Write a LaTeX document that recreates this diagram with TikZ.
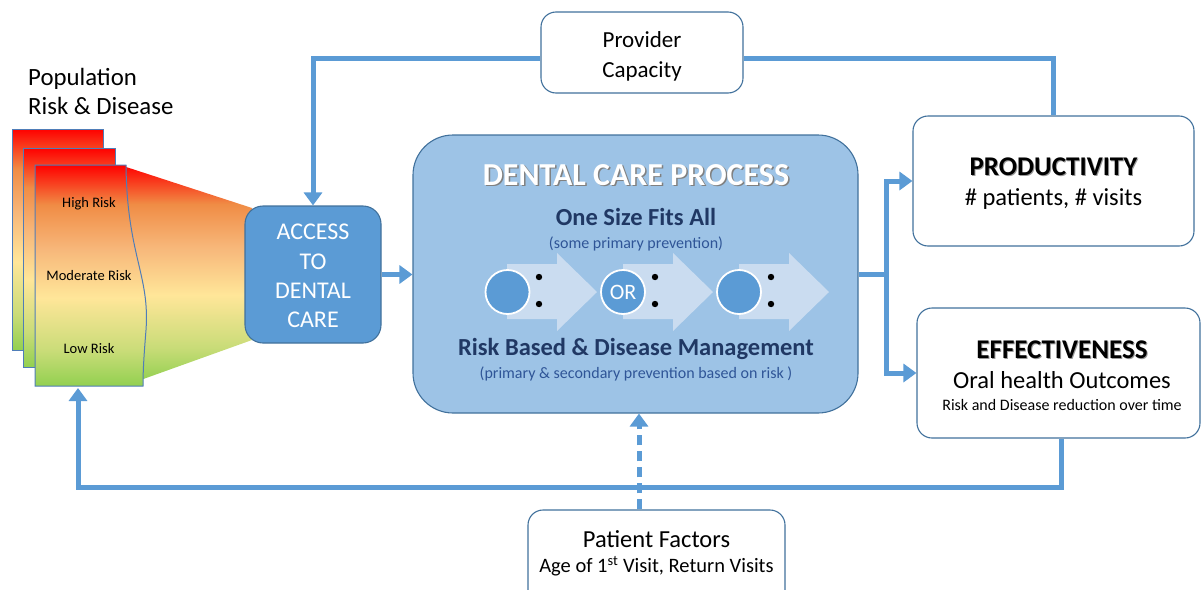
\documentclass[tikz,border=0pt]{standalone}
\usepackage{fontspec}
\setmainfont{Carlito}
\usetikzlibrary{arrows.meta,calc}
\definecolor{cblue}{HTML}{5B9BD5}
\definecolor{cborder}{HTML}{41719C}
\definecolor{cproc}{HTML}{9DC3E6}
\definecolor{cnavy}{HTML}{203864}
\definecolor{cmid}{HTML}{2F5597}
\definecolor{carrow}{HTML}{CADCF0}
\definecolor{rred}{HTML}{FF0000}
\definecolor{rorange}{HTML}{F08C45}
\definecolor{rlorange}{HTML}{F7B77A}
\definecolor{ryellow}{HTML}{FFE699}
\definecolor{rlgreen}{HTML}{C9DC78}
\definecolor{rgreen}{HTML}{92D050}
\definecolor{pageb}{HTML}{4F7DB8}
\pgfdeclareverticalshading{risk}{100bp}{color(0bp)=(rgreen); color(25bp)=(rgreen); color(33bp)=(rlgreen); color(45bp)=(ryellow); color(56bp)=(rlorange); color(66bp)=(rorange); color(75bp)=(rred); color(100bp)=(rred)}
\tikzset{
  conn/.style={draw=cblue, line width=5pt},
  tri/.style={-{Triangle[length=13pt,width=18pt]}},
  wbox/.style={draw=cborder, line width=1.1pt, fill=white, rounded corners=15pt},
  fs/.style={inner sep=0pt, anchor=center, font=\fontsize{#1}{#1}\selectfont, text height=#1*0.64pt, text depth=0pt},
  fsb/.style={fs=#1, font=\bfseries\fontsize{#1}{#1}\selectfont},
  circ/.style={circle, fill=cblue, draw=white, line width=1.8pt, minimum size=44pt, inner sep=0pt},
}
\begin{document}
\begin{tikzpicture}[x=1pt,y=-1pt]
\useasboundingbox (0,0) rectangle (1201,589);
% population pages
\node[fs=24.8, anchor=west] (pop1) at (28,78) {Population};
\node[fs=24.8, anchor=west] (pop2) at (28,107) {Risk \& Disease};
\shade[shading=risk, draw=pageb, line width=1pt] (12,129) rectangle (103,350);
\shade[shading=risk, draw=pageb, line width=1pt] (23,148) rectangle (115,367);
\shade[shading=risk] (120,165) -- (252,208) -- (252,340) -- (135,382) -- cycle;
\shade[shading=risk, draw=pageb, line width=1pt] (35,165) -- (126,165) .. controls (127,255) and (150,275) .. (146,330) .. controls (144,355) and (143,370) .. (143,386) -- (35,386) -- cycle;
\coordinate (pbot) at (78,388);
\node[fs=14.5] (hr) at (89,203) {High Risk};
\node[fs=14.5] (mr) at (89,276) {Moderate Risk};
\node[fs=14.5] (lr) at (89,349) {Low Risk};
% boxes
\node[wbox, minimum width=202pt, minimum height=81pt] (prov) at (642,52.5) {};
\node[fs=23] (prov1) at (642,40) {Provider};
\node[fs=23] (prov2) at (642,70) {Capacity};
\node[draw=cborder, fill=cblue, line width=1.1pt, rounded corners=18pt, minimum width=136pt, minimum height=137pt] (access) at (313,274.5) {};
\node[fs=24, white] (ac1) at (313,232) {ACCESS};
\node[fs=24, white] (ac2) at (313,262) {TO};
\node[fs=24, white] (ac3) at (313,291) {DENTAL};
\node[fs=24, white] (ac4) at (313,320) {CARE};
\node[draw=cborder, fill=cproc, line width=1.1pt, rounded corners=40pt, minimum width=445pt, minimum height=278pt] (proc) at (635.5,274) {};
\node[fsb=32, black!50] (dcps) at (637.5,176.5) {DENTAL CARE PROCESS};
\node[fsb=32, white] (dcp) at (636,175) {DENTAL CARE PROCESS};
\node[fsb=24.5, cnavy] (osfa) at (636,218) {One Size Fits All};
\node[fs=16, cmid] (osfa2) at (636,243) {(some primary prevention)};
\foreach \dx in {0,116,232} {
  \fill[carrow] (507+\dx,264) -- (557+\dx,264) -- (557+\dx,253) -- (597+\dx,292) -- (557+\dx,331) -- (557+\dx,319) -- (507+\dx,319) -- cycle;
  \fill[black] (539+\dx,277) circle (3.2);
  \fill[black] (539+\dx,304) circle (3.2);
}
\node[circ] (ca) at (507.5,292) {};
\node[circ, text=white, font=\fontsize{22}{26}\selectfont] (cb) at (623,292) {OR};
\node[circ] (cc) at (739,292) {};
\node[fsb=24.5, cnavy] (rb) at (636,348) {Risk Based \& Disease Management};
\node[fs=16, cmid] (rb2) at (636,373) {(primary \& secondary prevention based on risk )};
\node[wbox, minimum width=281pt, minimum height=130pt] (prod) at (1053.5,181) {};
\node[fsb=27, black!40] (prods) at (1054.5,167.5) {PRODUCTIVITY};
\node[fsb=27] (prod1) at (1053.5,166.5) {PRODUCTIVITY};
\node[fs=24.5] (prod2) at (1053.5,198) {\# patients, \# visits};
\node[wbox, minimum width=283pt, minimum height=130pt] (eff) at (1058.5,373) {};
\node[fsb=27, black!40] (effs) at (1063,351) {EFFECTIVENESS};
\node[fsb=27] (eff1) at (1062,350) {EFFECTIVENESS};
\node[fs=24.5] (eff2) at (1062,381) {Oral health Outcomes};
\node[fs=16] (eff3) at (1062,405) {Risk and Disease reduction over time};
\node[wbox, minimum width=257pt, minimum height=95pt] (pat) at (656.5,557.5) {};
\node[fs=24.5] (pat1) at (656.5,540) {Patient Factors};
\node[fs=20.5] (pat2) at (656.5,566) {Age of 1\textsuperscript{st} Visit, Return Visits};
% connectors
\draw[conn, tri] ([yshift=-6pt]prov.west) -| (access.north);
\draw[conn] ([yshift=-6pt]prov.east) -| (prod.north);
\draw[conn, tri] (access.east) -- (proc.west |- access.east);
\coordinate (split) at (886,274);
\draw[conn, tri] (proc.east) -- (split) |- (prod.west);
\draw[conn, tri] (split) |- (eff.west);
\draw[conn, tri] ([xshift=3pt]eff.south) -- ++(0,49) -| (pbot);
\coordinate (pfx) at (639,0);
\draw[conn, dash pattern=on 10pt off 6pt, tri] (pat.north -| pfx) -- (proc.south -| pfx);
\end{tikzpicture}
\end{document}
